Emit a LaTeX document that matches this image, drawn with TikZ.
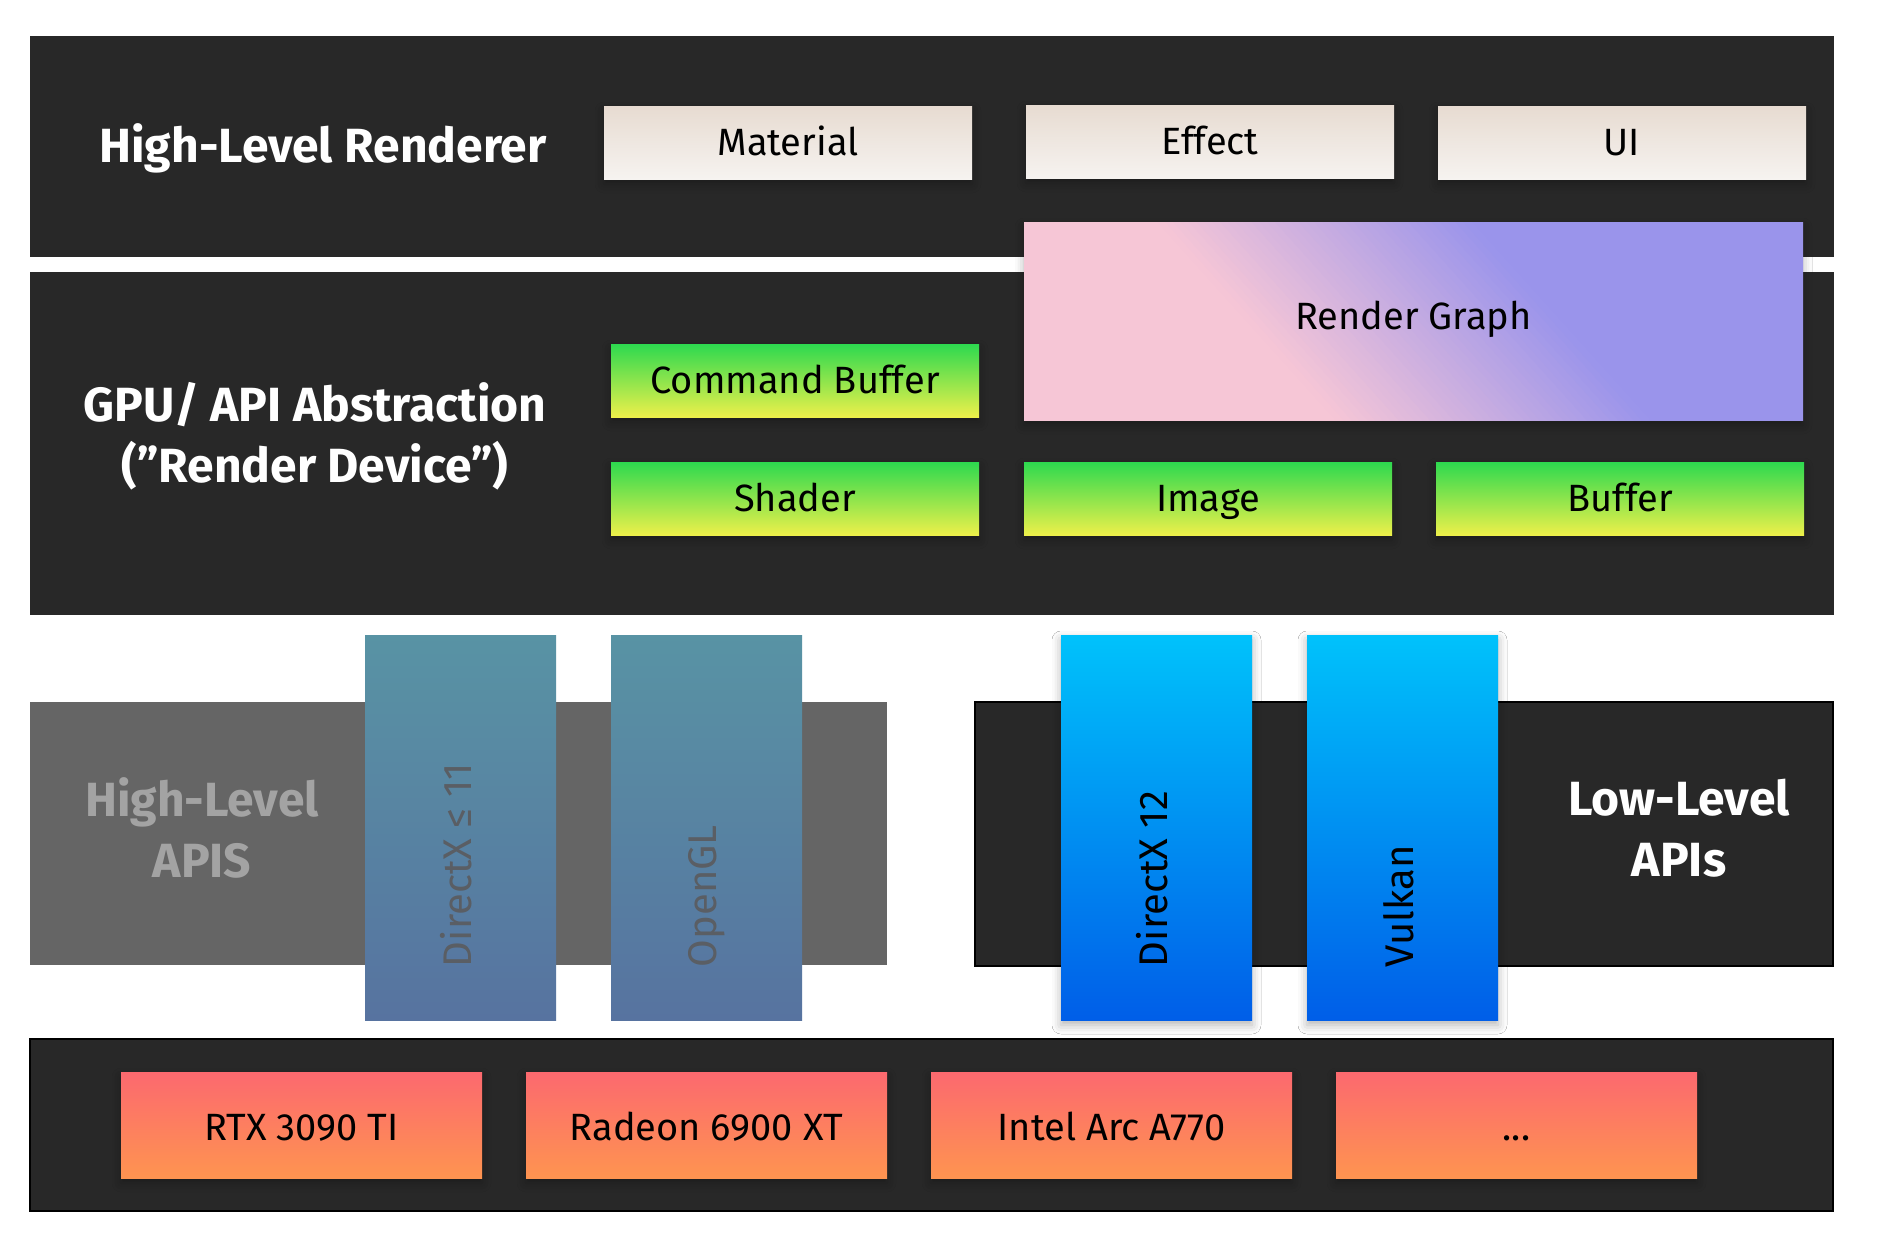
\documentclass[tikz,border=0pt]{standalone}
\usepackage{fontspec}
\setmainfont{Fira Sans}
\usetikzlibrary{shadows.blur}
\definecolor{bandc}{HTML}{282828}
\definecolor{cremetop}{HTML}{E7DBD1}
\definecolor{cremebot}{HTML}{F6F3F0}
\definecolor{greentop}{HTML}{2DD94F}
\definecolor{greenbot}{HTML}{EDF04A}
\definecolor{rgpink}{HTML}{F6C6D6}
\definecolor{rglav}{HTML}{9A94EB}
\definecolor{graybox}{HTML}{656565}
\definecolor{graytext}{HTML}{A3A3A3}
\definecolor{steeltop}{HTML}{5893A4}
\definecolor{steelbot}{HTML}{5773A0}
\definecolor{steeltext}{HTML}{5A5E64}
\definecolor{bluetop}{HTML}{00C2FB}
\definecolor{bluebot}{HTML}{005EE8}
\definecolor{orangetop}{HTML}{FC696F}
\definecolor{orangebot}{HTML}{FE9450}
\newcommand\bxfont{\fontsize{38}{46}\selectfont}
\newcommand\hdfont{\fontsize{48}{61}\selectfont\bfseries}
\newcommand\rotlabel[1]{\rotatebox{90}{\makebox[279pt][l]{\vphantom{Ag}#1}}}
\begin{document}
\begin{tikzpicture}[x=1pt,y=-1pt,
  band/.style={fill=bandc, draw=none, inner sep=0pt, outer sep=0pt, anchor=north west},
  shd/.style={blur shadow={shadow xshift=0pt, shadow yshift=-5pt, shadow blur radius=9pt, shadow opacity=30}},
  lbl/.style={inner sep=0pt, outer sep=0pt, anchor=north west, text height=26pt, text depth=0pt, font=\bxfont, text=black},
  creme/.style={lbl, shd, top color=cremetop, bottom color=cremebot, minimum width=368pt, minimum height=73pt},
  greenbox/.style={lbl, shd, top color=greentop, bottom color=greenbot, minimum width=368pt, minimum height=73pt},
  orangebox/.style={lbl, shd, text height=30pt, top color=orangetop, bottom color=orangebot, minimum width=361pt, minimum height=106pt},
  column/.style={inner sep=0pt, outer sep=0pt, anchor=north west, font=\fontsize{40}{48}\selectfont, minimum width=191pt, minimum height=385pt},
  steelcol/.style={column, top color=steeltop, bottom color=steelbot, text=steeltext},
  bluecol/.style={column, top color=bluetop, bottom color=bluebot, text=black, shd},
  head/.style={font=\hdfont, text=white, align=center, inner sep=0pt}
]
\useasboundingbox[fill=white] (0,0) rectangle (1890,1253);

% layer bands
\node[band, minimum width=1804pt, minimum height=221pt] (b1) at (30,36) {};
\node[band, minimum width=1804pt, minimum height=343pt] (b2) at (30,272) {};
\node[band, fill=graybox, minimum width=857pt, minimum height=263pt] (hl) at (30,702) {};
\node[band, draw=black, line width=1.5pt, minimum width=858pt, minimum height=264pt] (ll) at (975,702) {};
\node[band, draw=black, line width=1.5pt, minimum width=1803pt, minimum height=172pt] (b3) at (30,1039) {};

% headings
\node[head, anchor=base] (hlr) at (323,162) {High-Level Renderer};
\node[head, anchor=center] (gpu) at (315,436) {GPU/ API Abstraction\\(”Render Device”)};
\node[head, anchor=center, text=graytext] (hla) at (202,828) {High-Level\\APIS};
\node[head, anchor=center] (lla) at (1679,828) {Low-Level\\APIs};

% render graph: shadow, diagonal gradient, then the labelled node
\path[fill=rgpink, shd] (1024,222) rectangle (1803,420);
\begin{scope}
  \clip (1024,222) rectangle (1803,420);
  \foreach \ta/\tb/\rgp in {-600/-123/0, 108/600/100}{
    \pgfmathsetmacro\xa{1413.5+\ta*0.7431-600*0.6691}
    \pgfmathsetmacro\ya{321-\ta*0.6691-600*0.7431}
    \pgfmathsetmacro\xb{1413.5+\tb*0.7431-600*0.6691}
    \pgfmathsetmacro\yb{321-\tb*0.6691-600*0.7431}
    \pgfmathsetmacro\xc{1413.5+\tb*0.7431+600*0.6691}
    \pgfmathsetmacro\yc{321-\tb*0.6691+600*0.7431}
    \pgfmathsetmacro\xd{1413.5+\ta*0.7431+600*0.6691}
    \pgfmathsetmacro\yd{321-\ta*0.6691+600*0.7431}
    \fill[rglav!\rgp!rgpink] (\xa,\ya) -- (\xb,\yb) -- (\xc,\yc) -- (\xd,\yd) -- cycle;
  }
  \foreach \i in {0,...,39}{
    \pgfmathsetmacro\ta{-124+\i*5.825}
    \pgfmathsetmacro\tb{\ta+6.6}
    \pgfmathsetmacro\rgp{(\i+0.5)*2.5}
    \pgfmathsetmacro\xa{1413.5+\ta*0.7431-600*0.6691}
    \pgfmathsetmacro\ya{321-\ta*0.6691-600*0.7431}
    \pgfmathsetmacro\xb{1413.5+\tb*0.7431-600*0.6691}
    \pgfmathsetmacro\yb{321-\tb*0.6691-600*0.7431}
    \pgfmathsetmacro\xc{1413.5+\tb*0.7431+600*0.6691}
    \pgfmathsetmacro\yc{321-\tb*0.6691+600*0.7431}
    \pgfmathsetmacro\xd{1413.5+\ta*0.7431+600*0.6691}
    \pgfmathsetmacro\yd{321-\ta*0.6691+600*0.7431}
    \fill[rglav!\rgp!rgpink] (\xa,\ya) -- (\xb,\yb) -- (\xc,\yc) -- (\xd,\yd) -- cycle;
  }
\end{scope}
\node[lbl, text depth=10pt, minimum width=779pt, minimum height=198pt] (rg) at (1024,222) {Render Graph};

% high-level renderer boxes
\node[creme] (mat) at (604,106) {Material};
\node[creme] (eff) at (1026,105) {Effect};
\node[creme] (ui) at (1438,106) {UI};

% render device boxes
\node[greenbox] (cmd) at (611,344) {Command Buffer};
\node[greenbox] (sha) at (611,462) {Shader};
\node[greenbox] (img) at (1024,462) {Image};
\node[greenbox] (buf) at (1436,462) {Buffer};

% API columns
\node[steelcol] (dx11) at (365,635) {\rotlabel{DirectX ≤ 11}};
\node[steelcol] (ogl) at (611,635) {\rotlabel{OpenGL}};
\node[bluecol] (dx12) at (1061,635) {\rotlabel{DirectX 12}};
\node[bluecol] (vk) at (1307,635) {\rotlabel{Vulkan}};

% hardware
\node[orangebox] (rtx) at (121,1072) {RTX 3090 TI};
\node[orangebox] (rad) at (526,1072) {Radeon 6900 XT};
\node[orangebox] (arc) at (931,1072) {Intel Arc A770};
\node[orangebox] (etc) at (1336,1072) {...};
\end{tikzpicture}
\end{document}
